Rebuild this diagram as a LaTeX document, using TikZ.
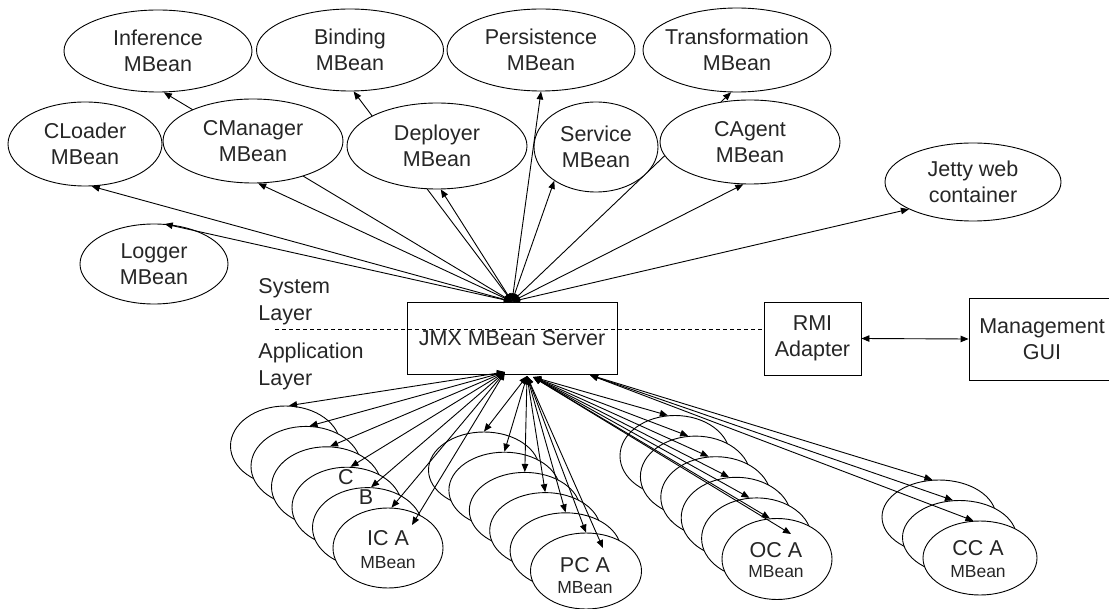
\documentclass[tikz,border=0pt]{standalone}
\usepackage{fontspec}
\setmainfont{Liberation Sans}
\usetikzlibrary{shapes.geometric,arrows.meta,calc}
\begin{document}
\begin{tikzpicture}[x=1bp,y=-1bp,line width=0.9bp,
  arr/.style={{Triangle[length=8bp,width=6.5bp]}-{Triangle[length=8bp,width=6.5bp]}},
  ell/.style={ellipse,draw,fill=white,inner sep=0pt},
  box/.style={draw,inner sep=0pt,align=center,text=black!85,font=\fontsize{21.5bp}{26.5bp}\selectfont},
  txt/.style={inner sep=0pt,align=center,text=black!85,font=\fontsize{21.5bp}{26.5bp}\selectfont},
  sml/.style={inner sep=0pt,align=center,text=black!85,font=\fontsize{17.5bp}{21bp}\selectfont}]
\useasboundingbox (0,0) rectangle (1109,609);
\clip (0,0) rectangle (1109,609);

% server
\node[box,minimum width=210bp,minimum height=72bp] (srv) at (512,338) {JMX MBean Server};

% top row
\node[ell,minimum width=188bp,minimum height=82bp] (inf) at (158,51) {};
\node[txt] (infT) at (inf) {Inference\\MBean};
\node[ell,minimum width=187bp,minimum height=82bp] (bind) at (350,50) {};
\node[txt] (bindT) at (bind) {Binding\\MBean};
\node[ell,minimum width=188bp,minimum height=82bp] (pers) at (541,50) {};
\node[txt] (persT) at (pers) {Persistence\\MBean};
\node[ell,minimum width=188bp,minimum height=84bp] (trans) at (737,50) {};
\node[txt] (transT) at (trans) {Transformation\\MBean};

\draw[arr] (srv.north) -- (inf.-82);
\draw[arr] (srv.north) -- (bind.-85);
\draw[arr] (srv.north) -- (trans.-98);

% second row
\node[ell,minimum width=154bp,minimum height=84bp] (cload) at (85,144) {};
\node[txt] (cloadT) at (cload) {CLoader\\MBean};
\node[ell,minimum width=180bp,minimum height=84bp] (cman) at (253,141) {};
\node[txt] (cmanT) at (cman) {CManager\\MBean};
\node[ell,minimum width=180bp,minimum height=86bp] (depl) at (437,146) {};
\node[txt] (deplT) at (depl) {Deployer\\MBean};
\node[ell,minimum width=124bp,minimum height=90bp] (serv) at (596,147) {};
\node[txt] (servT) at (serv) {Service\\MBean};
\node[ell,minimum width=180bp,minimum height=84bp] (cagent) at (750,142) {};
\node[txt] (cagentT) at (cagent) {CAgent\\MBean};
\node[ell,minimum width=176bp,minimum height=78bp] (jetty) at (973,182) {};
\node[txt] (jettyT) at (jetty) {Jetty web\\container};
\node[ell,minimum width=148bp,minimum height=80bp] (logger) at (154,264) {};
\node[txt] (loggerT) at (logger) {Logger\\MBean};

\draw[arr] (srv.north) -- (cload.-81);
\draw[arr] (srv.north) -- (cman.-83);
\draw[arr] (srv.north) -- (depl.-85);
\draw[arr] (srv.north) -- (pers.-90);
\draw[arr] (srv.north) -- (serv.-141);
\draw[arr] (srv.north) -- (cagent.-99);
\draw[arr] (srv.north) -- (jetty.-157);
\draw[arr] (srv.north) -- (logger.75);

% layer labels
\node[txt,anchor=west,align=left] (sys) at (258,301.5) {System\\Layer};
\node[txt,anchor=west,align=left] (app) at (258,366.5) {Application\\Layer};

% RMI and GUI
\node[box,minimum width=97bp,minimum height=73bp] (rmi) at (812.5,338.5) {RMI\\Adapter};
\node[box,minimum width=146bp,minimum height=82bp] (gui) at (1042,339) {Management\\GUI};
\draw[arr] (rmi.east) -- (gui.west);
\coordinate (dL) at (275,329);
\draw[line width=0.8bp,dash pattern=on 4bp off 3bp] (dL) -- (dL -| rmi.west);

% bottom stacks
\foreach \k in {5,4,...,0}
  \node[ell,minimum width=110bp,minimum height=80bp] (ic\k) at ({388-20.5*\k},{548-20.4*\k}) {};
\foreach \k in {5,4,...,0}
  \node[ell,minimum width=111bp,minimum height=76bp] (pc\k) at ({586-20.4*\k},{571-20.2*\k}) {};
\foreach \k in {5,4,...,0}
  \node[ell,minimum width=110bp,minimum height=81bp] (oc\k) at ({777-20.4*\k},{559-20.6*\k}) {};
\foreach \k in {2,1,0}
  \node[ell,minimum width=114bp,minimum height=74bp] (cc\k) at ({980-20.5*\k},{558-20.5*\k}) {};

\node[txt] (lblC) at (346,477) {C};
\node[txt] (lblB) at (366,497) {B};

\coordinate (sIC) at (505,372);
\coordinate (sPC) at (527,376);
\coordinate (sOC) at (533,377);
\coordinate (sCC) at (590,375);

\foreach \k in {0,...,5} \draw[arr] (sIC) -- (ic\k.85);
\coordinate (icX) at ($(ic0)+(24,-23)$);
\draw[arr] (sIC) -- (icX);
\foreach \k in {0,...,5} \draw[arr] (sPC) -- (pc\k.north);
\coordinate (pcX) at ($(pc0)+(17,-23)$);
\draw[arr] (sPC) -- (pcX);
\foreach \k in {0,...,5} \draw[arr] (sOC) -- (oc\k.100);
\coordinate (ocX) at ($(oc0)+(14,-25)$);
\draw[arr] (sOC) -- (ocX);
\foreach \k in {0,1,2} \draw[arr] (sCC) -- (cc\k.100);

\node[txt] (icA) at (388,538) {IC A};
\node[sml] (icM) at (388,563) {MBean};
\node[txt] (pcA) at (585,565) {PC A};
\node[sml] (pcM) at (585,588) {MBean};
\node[txt] (ocA) at (776,550) {OC A};
\node[sml] (ocM) at (776,572) {MBean};
\node[txt] (ccA) at (978,548) {CC A};
\node[sml] (ccM) at (978,572) {MBean};
\end{tikzpicture}
\end{document}
